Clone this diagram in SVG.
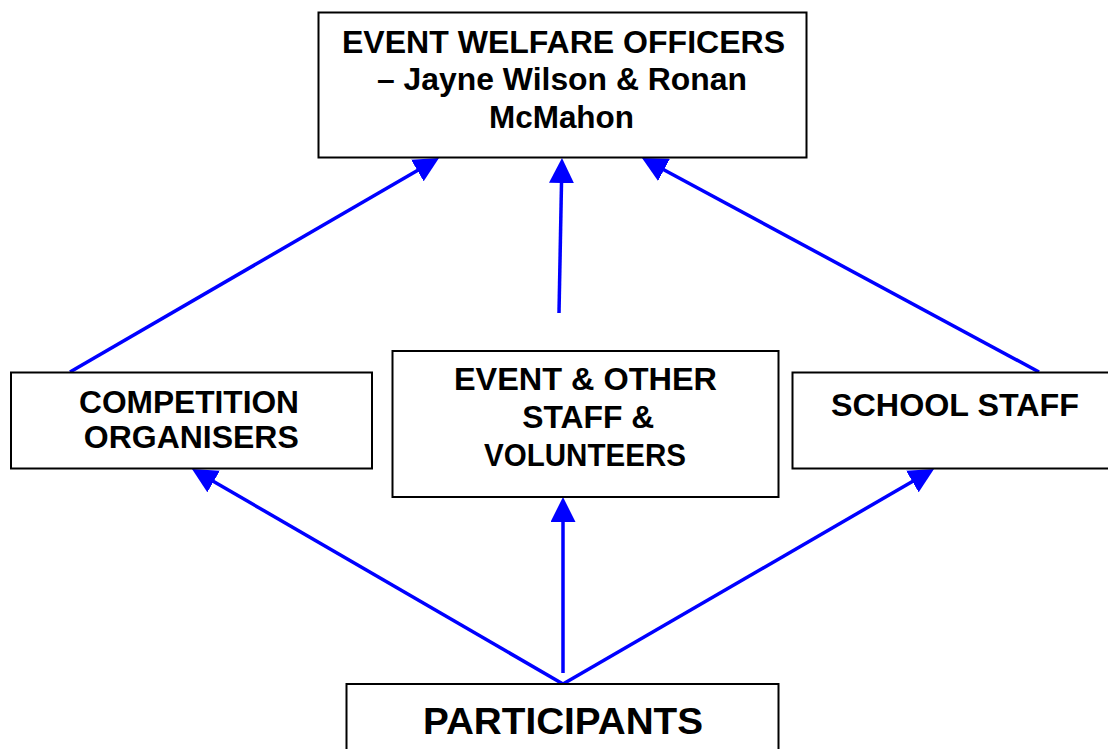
<svg xmlns="http://www.w3.org/2000/svg" width="1108" height="749" viewBox="0 0 1108 749">
<style>
.box{fill:#fff;stroke:#000;stroke-width:2}
.t{font-family:"Liberation Sans",Arial,sans-serif;font-weight:bold;font-size:31px;text-anchor:middle;fill:#000}
.big{font-size:36px}
.c{stroke:#0000ff;stroke-width:3.5;fill:none}
</style>
<defs>
<marker id="arr" markerUnits="userSpaceOnUse" markerWidth="25" markerHeight="25" viewBox="0 0 25 25" refX="5" refY="12.5" orient="auto">
<path d="M0,0 L25,12.5 L0,25 Z" fill="#0000ff"/>
</marker>
</defs>
<rect width="1108" height="749" fill="#fff"/>
<g id="connectors">
<line class="c" x1="70" y1="372" x2="421.7" y2="168" marker-end="url(#arr)"/>
<line class="c" x1="559" y1="313" x2="561.6" y2="178" marker-end="url(#arr)"/>
<line class="c" x1="1039" y1="372" x2="659.6" y2="167.5" marker-end="url(#arr)"/>
<line class="c" x1="563" y1="684" x2="209.3" y2="479" marker-end="url(#arr)"/>
<line class="c" x1="563" y1="673" x2="563" y2="517" marker-end="url(#arr)"/>
<line class="c" x1="563" y1="684" x2="916.7" y2="479" marker-end="url(#arr)"/>
</g>
<g id="welfare">
<rect class="box" x="318.5" y="12.5" width="488" height="145"/>
<text class="t" x="563.5" y="52.5" textLength="443" lengthAdjust="spacingAndGlyphs">EVENT WELFARE OFFICERS</text>
<text class="t" x="562" y="89.5" textLength="370" lengthAdjust="spacingAndGlyphs">– Jayne Wilson &amp; Ronan</text>
<text class="t" x="561.5" y="128" textLength="145" lengthAdjust="spacingAndGlyphs">McMahon</text>
</g>
<g id="competition">
<rect class="box" x="11" y="372.5" width="361" height="96"/>
<text class="t" x="189" y="413" textLength="220" lengthAdjust="spacingAndGlyphs">COMPETITION</text>
<text class="t" x="191.3" y="448" textLength="215" lengthAdjust="spacingAndGlyphs">ORGANISERS</text>
</g>
<g id="eventstaff">
<rect class="box" x="392.5" y="351" width="386" height="146"/>
<text class="t" x="585.5" y="389.5" textLength="263" lengthAdjust="spacingAndGlyphs">EVENT &amp; OTHER</text>
<text class="t" x="588.3" y="428" textLength="132" lengthAdjust="spacingAndGlyphs">STAFF &amp;</text>
<text class="t" x="585" y="466" textLength="202" lengthAdjust="spacingAndGlyphs">VOLUNTEERS</text>
</g>
<g id="schoolstaff">
<rect class="box" x="792.5" y="372.5" width="330" height="96"/>
<text class="t" x="955" y="416" textLength="248" lengthAdjust="spacingAndGlyphs">SCHOOL STAFF</text>
</g>
<g id="participants">
<rect class="box" x="346.5" y="684" width="432" height="80"/>
<text class="t big" x="563" y="734" textLength="280" lengthAdjust="spacingAndGlyphs">PARTICIPANTS</text>
</g>
</svg>
